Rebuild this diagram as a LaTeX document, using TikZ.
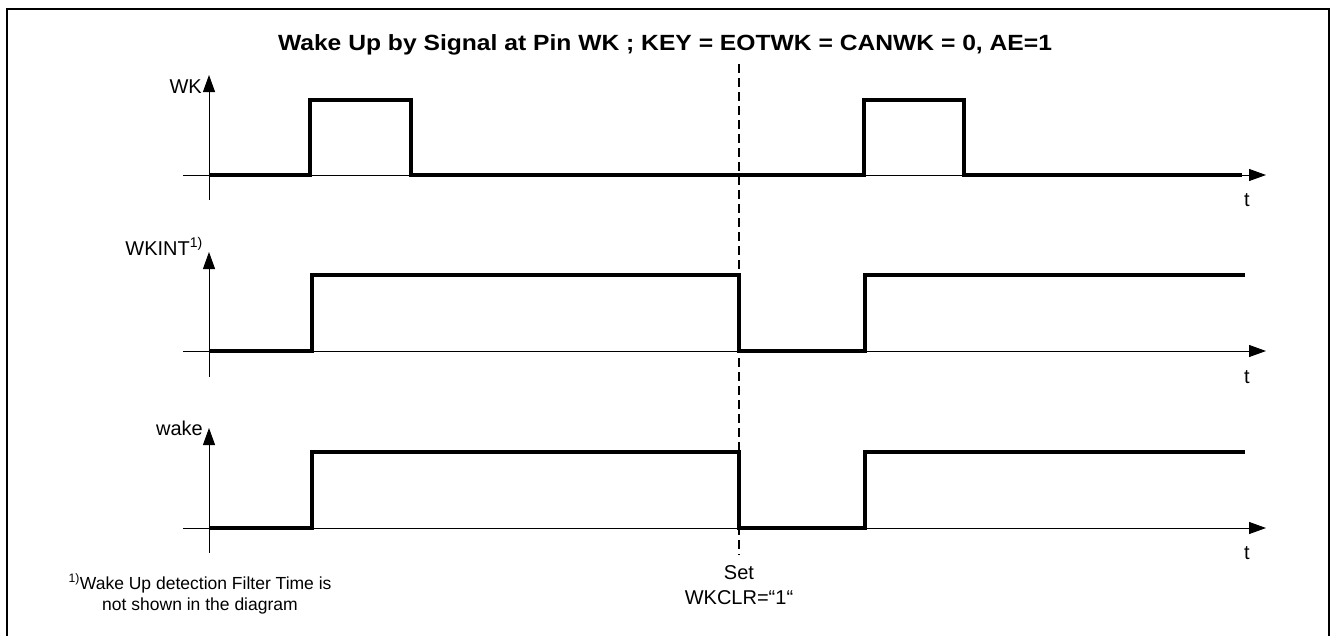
\documentclass[tikz,border=0pt]{standalone}
\usepackage{fontspec}
\setmainfont{Liberation Sans}
\usetikzlibrary{arrows.meta}
\begin{document}
\begin{tikzpicture}[x=1pt,y=-1pt,
  axis/.style={line width=1pt,-{Triangle[length=17pt,width=12pt]}},
  sig/.style={line width=3.5pt,line join=miter,line cap=butt},
  lbl/.style={font=\fontsize{20}{22}\selectfont,inner sep=0pt},
  foot/.style={font=\fontsize{17.5}{21}\selectfont,inner sep=0pt,align=center}]
\useasboundingbox (0,0) rectangle (1331,635);
% frame
\draw[line width=2pt] (7,640) -- (7,9) -- (1329,9) -- (1329,640);
% title
\node[inner sep=0pt,xscale=1.12,font=\bfseries\fontsize{22}{26}\selectfont] (title) at (665,45) {Wake Up by Signal at Pin WK ; KEY = EOTWK = CANWK = 0, AE=1};
% coordinates for axes
\foreach \n/\y/\top/\bot in {a/175/75/200, b/351/252/377, c/528/428/553}{
  \coordinate (\n x0) at (183,\y);
  \coordinate (\n x1) at (1266,\y);
  \coordinate (\n y0) at (209,\bot);
  \coordinate (\n y1) at (209,\top);
}
\draw[axis] (ax0) -- (ax1);
\draw[axis] (ay0) -- (ay1);
\draw[axis] (bx0) -- (bx1);
\draw[axis] (by0) -- (by1);
\draw[axis] (cx0) -- (cx1);
\draw[axis] (cy0) -- (cy1);
% labels
\node[lbl,anchor=east] (lwk) at (202,87) {WK};
\node[lbl,anchor=base east] (lwkint) at (203,255) {WKINT\textsuperscript{1)}};
\node[lbl,anchor=east] (lwake) at (203,428) {wake};
\node[lbl] (t1) at (1247,200) {t};
\node[lbl] (t2) at (1247,377) {t};
\node[lbl] (t3) at (1247,553) {t};
% signals
\draw[sig] (209,175) -- (310,175) -- (310,100) -- (411,100) -- (411,175) -- (864,175) -- (864,100) -- (964,100) -- (964,175) -- (1242,175);
\draw[sig] (209,351) -- (312,351) -- (312,275) -- (739,275) -- (739,351) -- (865,351) -- (865,275) -- (1245,275);
\draw[sig] (209,528) -- (312,528) -- (312,452) -- (739,452) -- (739,528) -- (865,528) -- (865,452) -- (1245,452);
% dashed marker
\coordinate (d0) at (739,64);
\coordinate (d1) at (739,555);
\draw[line width=2.5pt,dash pattern=on 9pt off 5pt] (d0) -- (d1);
\node[lbl,align=center,font=\fontsize{20}{25}\selectfont] (set) at (739,585) {Set\\WKCLR=“1“};
% footnote
\node[foot] (fn) at (200,594) {\textsuperscript{1)}Wake Up detection Filter Time is\\not shown in the diagram};
\end{tikzpicture}
\end{document}
